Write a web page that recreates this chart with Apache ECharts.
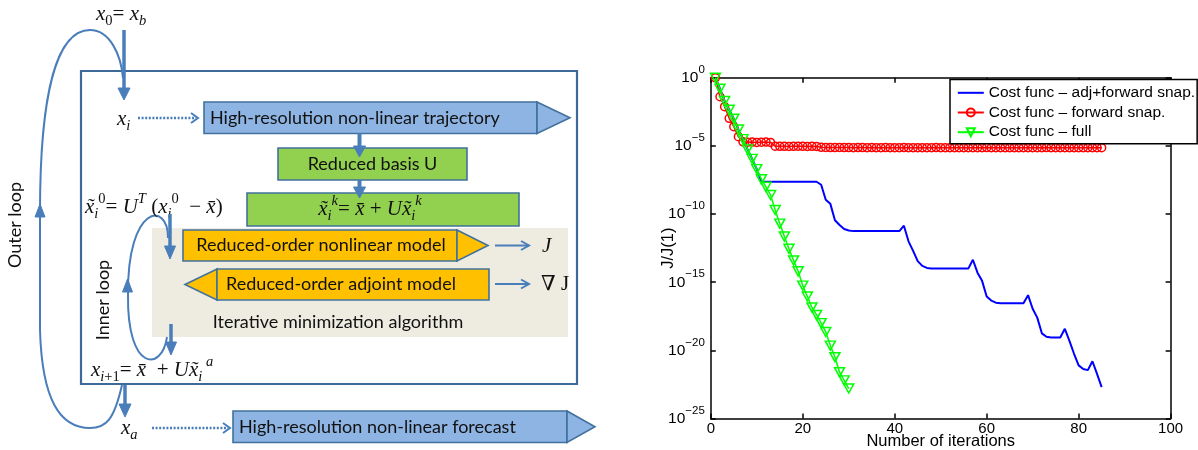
<!DOCTYPE html>
<html><head><meta charset="utf-8">
<script src="https://cdn.jsdelivr.net/npm/echarts@6.0.0/dist/echarts.min.js"></script>
<style>html,body{margin:0;padding:0;background:#fff}#c{width:1198px;height:450px}</style>
</head><body><div id="c"></div>
<script>
// ---------------- data (log10 of J/J(1), one value per iteration starting at 1) ----------------
const iterStart = 1;
const seriesNames = ['Cost func \u2013 adj+forward snap.', 'Cost func \u2013 forward snap.', 'Cost func \u2013 full'];
const costAdjForward = [
  0, -0.8, -1.7, -2.35, -3.0, -3.8, -4.5, -5.25, -5.95, -6.7,
  -7.63, -7.63, -7.63, -7.63, -7.63, -7.63, -7.63, -7.63, -7.63, -7.63, -7.63, -7.63, -7.63,
  -7.85, -8.95, -9.25, -10.45, -10.8, -11.1, -11.2,
  -11.25, -11.25, -11.25, -11.25, -11.25, -11.25, -11.25, -11.25, -11.25, -11.25, -11.25,
  -10.85, -12.0, -12.7, -13.45, -13.8, -13.95,
  -14.0, -14.0, -14.0, -14.0, -14.0, -14.0, -14.0, -14.0, -14.0,
  -13.35, -14.3, -14.9, -16.05, -16.35, -16.5,
  -16.55, -16.55, -16.55, -16.55, -16.55, -16.55,
  -15.95, -16.95, -17.6, -18.75, -19.0, -19.05, -19.05, -19.05,
  -18.42, -19.3, -20.25, -21.1, -21.37, -21.45,
  -20.8, -21.72, -22.7
];
const costForward = [
  0, -1.39, -2.12, -2.97, -3.59, -4.32,
  -4.7, -4.73, -4.72, -4.74, -4.73, -4.72, -4.74,
  -5.02, -5.03, -5.03, -5.04, -5.03, -5.02, -5.03, -5.04, -5.03, -5.04,
  -5.1, -5.11, -5.12, -5.12, -5.11, -5.12, -5.12, -5.13, -5.12, -5.12, -5.13, -5.12,
  -5.13, -5.13, -5.12, -5.13, -5.13, -5.13, -5.12, -5.13, -5.13, -5.13,
  -5.13, -5.13, -5.13, -5.12, -5.13, -5.13, -5.13, -5.13, -5.13, -5.13,
  -5.13, -5.13, -5.13, -5.13, -5.12, -5.13, -5.13, -5.13, -5.13, -5.13,
  -5.13, -5.13, -5.13, -5.13, -5.13, -5.13, -5.13, -5.12, -5.13, -5.13,
  -5.13, -5.13, -5.13, -5.13, -5.13, -5.13, -5.13, -5.13, -5.13, -5.13
];
const costFull = [
  0, -0.8, -1.7, -2.35, -3.0, -3.8, -4.5, -5.25, -5.95, -6.7,
  -7.45, -8.0, -8.6, -9.7, -10.7, -11.65, -12.55, -13.4, -14.2, -15.25,
  -16.05, -16.85, -17.4, -18.0, -18.65, -19.65, -20.5, -21.6, -22.2, -22.8
];
const xTickMin = 0, xTickMax = 100, xTickStep = 20;
const yExpMin = -25, yExpMax = 0, yExpStep = 5;
const xAxisTitle = 'Number of iterations';
const yAxisTitle = 'J/J(1)';

// ---------------- diagram texts ----------------
const boxTexts = {
  traj: 'High-resolution non-linear trajectory',
  basis: 'Reduced basis U',
  nonlin: 'Reduced-order nonlinear model',
  adj: 'Reduced-order adjoint model',
  iter: 'Iterative minimization algorithm',
  fcst: 'High-resolution non-linear forecast',
  outer: 'Outer loop',
  inner: 'Inner loop'
};

const toPairs = arr => arr.map((v, i) => [iterStart + i, v]);

const SERIF = "'Liberation Serif','DejaVu Serif',serif";
const BOXF = "Lato,'Open Sans',sans-serif";
const PLOTF = "'Liberation Sans',Arial,sans-serif";
const C = {arrow:'#4a7ebb', box:'#3d6a99', edge:'#41719c', blue:'#8eb4e3', green:'#92d050', orange:'#ffc000', beige:'#eeece1'};

function rect(x,y,w,h,style){return {type:'rect', silent:true, shape:{x:x,y:y,width:w,height:h}, style:style};}
function poly(points,style){return {type:'polygon', silent:true, shape:{points:points}, style:style};}
function pline(points,style){return {type:'polyline', silent:true, shape:{points:points}, style:style};}
function bz(p0,c1,c2,p1,style){return {type:'bezierCurve', silent:true, shape:{x1:p0[0],y1:p0[1],cpx1:c1[0],cpy1:c1[1],cpx2:c2[0],cpy2:c2[1],x2:p1[0],y2:p1[1]}, style:Object.assign({fill:null}, style)};}
function txt(x,y,text,align,extra){
  return Object.assign({type:'text', silent:true, x:x, y:y, style:{text:text, font:'18px '+BOXF, fill:'#111', align:align||'center', verticalAlign:'middle'}}, extra||{});
}
const MR = {
  m:{fontFamily:SERIF, fontStyle:'italic', fontSize:21, lineHeight:30, fill:'#111'},
  n:{fontFamily:SERIF, fontSize:21, lineHeight:30, fill:'#111'},
  lo:{fontFamily:SERIF, fontStyle:'italic', fontSize:14.5, lineHeight:14, verticalAlign:'bottom', fill:'#111'},
  lon:{fontFamily:SERIF, fontSize:14.5, lineHeight:14, verticalAlign:'bottom', fill:'#111'},
  hi:{fontFamily:SERIF, fontStyle:'italic', fontSize:14.5, lineHeight:14, verticalAlign:'top', fill:'#111'},
  hin:{fontFamily:SERIF, fontSize:14.5, lineHeight:14, verticalAlign:'top', fill:'#111'}
};
function math(x,y,text,align){
  return {type:'text', silent:true, x:x, y:y, style:{text:text, rich:MR, font:'21px '+SERIF, fill:'#111', align:align||'left', verticalAlign:'middle'}};
}
function downArrow(x,y0,y1,lw,hw,hl){
  return [
    {type:'line', silent:true, shape:{x1:x,y1:y0,x2:x,y2:y1-hl+1}, style:{stroke:C.arrow, lineWidth:lw}},
    poly([[x-hw/2,y1-hl],[x+hw/2,y1-hl],[x,y1]], {fill:C.arrow, stroke:C.arrow, lineWidth:1})
  ];
}
const dotted = {stroke:C.arrow, lineWidth:2.5, lineDash:[2,1.6], fill:null};
const thinA = {stroke:C.arrow, lineWidth:2, fill:null};
const edgeS = {stroke:C.edge, lineWidth:1.6};

const xt = '{m|x\u0303}', xb = '{m|x\u0304}';
const elements = [
  rect(152,228,416,109,{fill:C.beige}),
  rect(81,71,496,313,{fill:null, stroke:C.box, lineWidth:2.2}),
  // trajectory
  rect(204,102,333,31.5,Object.assign({fill:C.blue},edgeS)),
  poly([[537,102],[570,117.75],[537,133.5]],Object.assign({fill:C.blue},edgeS)),
  txt(210,118,boxTexts.traj,'left'),
  // reduced basis
  rect(278,148,189,32,Object.assign({fill:C.green},edgeS)),
  txt(372.5,164.5,boxTexts.basis),
  rect(247,193,272,33,Object.assign({fill:C.green},edgeS)),
  math(370,209, xt+'{lo|i}{hi|k}{n|= }'+xb+'{n| + }{m|U}'+xt+'{lo|i}{hi|k}','center'),
  // orange boxes
  rect(183,230,274,31,Object.assign({fill:C.orange},edgeS)),
  poly([[457,230],[488,245.5],[457,261]],Object.assign({fill:C.orange},edgeS)),
  txt(321,245.5,boxTexts.nonlin),
  poly([[185,284.5],[217,269],[217,300]],Object.assign({fill:C.orange},edgeS)),
  rect(217,269,272,31,Object.assign({fill:C.orange},edgeS)),
  txt(341,284.5,boxTexts.adj),
  txt(338,322,boxTexts.iter),
  // J arrows
  pline([[495,245.5],[529,245.5]],thinA),
  pline([[521,241],[529,245.5],[521,250]],thinA),
  pline([[495,284],[529,284]],thinA),
  pline([[521,279.5],[529,284],[521,288.5]],thinA),
  math(542,246,'{m|J}'),
  math(541,284,'{m|\u2207}{n| J}'),
  // forecast
  rect(233,411,334,31.5,Object.assign({fill:C.blue},edgeS)),
  poly([[567,411],[595,426.75],[567,442.5]],Object.assign({fill:C.blue},edgeS)),
  txt(239,427,boxTexts.fcst,'left'),
  // dotted arrows
  pline([[138,118],[196,118]],dotted),
  pline([[191,113],[198,118],[191,123]],thinA),
  pline([[152,428],[228,428]],dotted),
  pline([[223,423],[230,428],[223,433]],thinA),
  // outer loop
  bz([122,385],[114,420],[106,428],[90,428],thinA),
  bz([90,428],[60,428],[42,400],[40,330],thinA),
  pline([[40,330],[40,212]],thinA),
  bz([40,212],[40,100],[55,30],[90,30],thinA),
  bz([90,30],[110,30],[121,55],[123,78],thinA),
  poly([[40,204],[35,217],[45,217]],{fill:C.arrow, stroke:C.arrow, lineWidth:1}),
  // inner loop
  bz([167,337],[162,372],[127,372],[128,295],thinA),
  bz([128,295],[127,205],[168,200],[168,238],thinA),
  poly([[127.5,279],[122.5,292],[132.5,292]],{fill:C.arrow, stroke:C.arrow, lineWidth:1}),
  // labels
  txt(15,225,boxTexts.outer,'center',{rotation:Math.PI/2}),
  txt(103,300,boxTexts.inner,'center',{rotation:Math.PI/2}),
  // math labels
  math(96,14,'{m|x}{lon|0}{n|= }{m|x}{lo|b}'),
  math(117,119,'{m|x}{lo|i}'),
  math(85,207, xt+'{lo|i}{hin|0}{n|= }{m|U}{hi|T}{n| (}{m|x}{lo|i}{hin|0}{n|  \u2212 }'+xb+'{n|)}'),
  math(91,370,'{m|x}{lo|i}{lon|+1}{n|= }'+xb+'{n|  + }{m|U}'+xt+'{lo|i}{hi| a}'),
  math(121,428,'{m|x}{lo|a}')
]
.concat(downArrow(124,30,100,3.5,12,12))
.concat(downArrow(359.5,133,157,4,12,11))
.concat(downArrow(359.5,180,198,4,12,11))
.concat(downArrow(170,214,259,3.5,11,13))
.concat(downArrow(171,324,355,3.5,11,13))
.concat(downArrow(125,385,417,3.5,12,13));

const axisBase = {
  axisLine:{onZero:false, lineStyle:{color:'#000', width:1.5}},
  axisTick:{show:true, inside:true, length:5, lineStyle:{color:'#000', width:1.5}},
  splitLine:{show:false}
};

const option = {
  animation:false,
  backgroundColor:'#fff',
  grid:{left:710.8, right:27.4, top:77.8, bottom:31.5, containLabel:false, outerBoundsMode:'none'},
  legend:{
    orient:'vertical', left:950, top:79.6,
    padding:[5.2,2,3.6,6.8], itemGap:3.7, itemWidth:26, itemHeight:10,
    backgroundColor:'#fff', borderColor:'#000', borderWidth:1.5, borderRadius:0,
    textStyle:{fontFamily:PLOTF, fontSize:15.5, color:'#000'},
    selectedMode:false,
    data:[{name:seriesNames[0], itemStyle:{opacity:0}}, seriesNames[1], seriesNames[2]]
  },
  xAxis:[
    Object.assign({type:'value', min:xTickMin, max:xTickMax, interval:xTickStep, position:'bottom',
      name:xAxisTitle, nameLocation:'middle', nameGap:14, nameMoveOverlap:false,
      nameTextStyle:{fontFamily:PLOTF, fontSize:16.5, color:'#000'},
      axisLabel:{fontFamily:PLOTF, fontSize:15, color:'#000', margin:3}}, axisBase),
    Object.assign({type:'value', min:xTickMin, max:xTickMax, interval:xTickStep, position:'top',
      axisLabel:{show:false}}, axisBase)
  ],
  yAxis:[
    Object.assign({type:'value', min:yExpMin, max:yExpMax, interval:yExpStep, position:'left',
      name:yAxisTitle, nameLocation:'middle', nameGap:34, nameRotate:90, nameMoveOverlap:false,
      nameTextStyle:{fontFamily:PLOTF, fontSize:16.5, color:'#000'},
      axisLabel:{margin:6, formatter:function(v){return '{b|10}{e|'+(v===0?'0':'\u2212'+Math.abs(v))+'}';},
        rich:{b:{fontFamily:PLOTF, fontSize:15.5, color:'#000', lineHeight:28},
              e:{fontFamily:PLOTF, fontSize:11.5, color:'#000', lineHeight:12, verticalAlign:'top'}}}}, axisBase),
    Object.assign({type:'value', min:yExpMin, max:yExpMax, interval:yExpStep, position:'right',
      axisLabel:{show:false}}, axisBase)
  ],
  series:[
    {type:'line', name:seriesNames[0], data:toPairs(costAdjForward), symbol:'none', showSymbol:false,
      lineStyle:{color:'#0000ff', width:2}, itemStyle:{color:'#0000ff'}, z:2},
    {type:'line', name:seriesNames[1], data:toPairs(costForward), symbol:'circle', symbolSize:8,
      lineStyle:{color:'#ff0000', width:1.5}, itemStyle:{color:'rgba(255,255,255,0)', borderColor:'#ff0000', borderWidth:1.5}, z:3},
    {type:'line', name:seriesNames[2], data:toPairs(costFull), symbol:'triangle', symbolRotate:180, symbolSize:[10,9],
      lineStyle:{color:'#00ff00', width:1.5}, itemStyle:{color:'rgba(255,255,255,0)', borderColor:'#00ff00', borderWidth:1.5}, z:4}
  ],
  graphic:{elements:elements}
};
const chart = echarts.init(document.getElementById('c'), null, {renderer:'canvas'});
chart.setOption(option);
</script></body></html>
